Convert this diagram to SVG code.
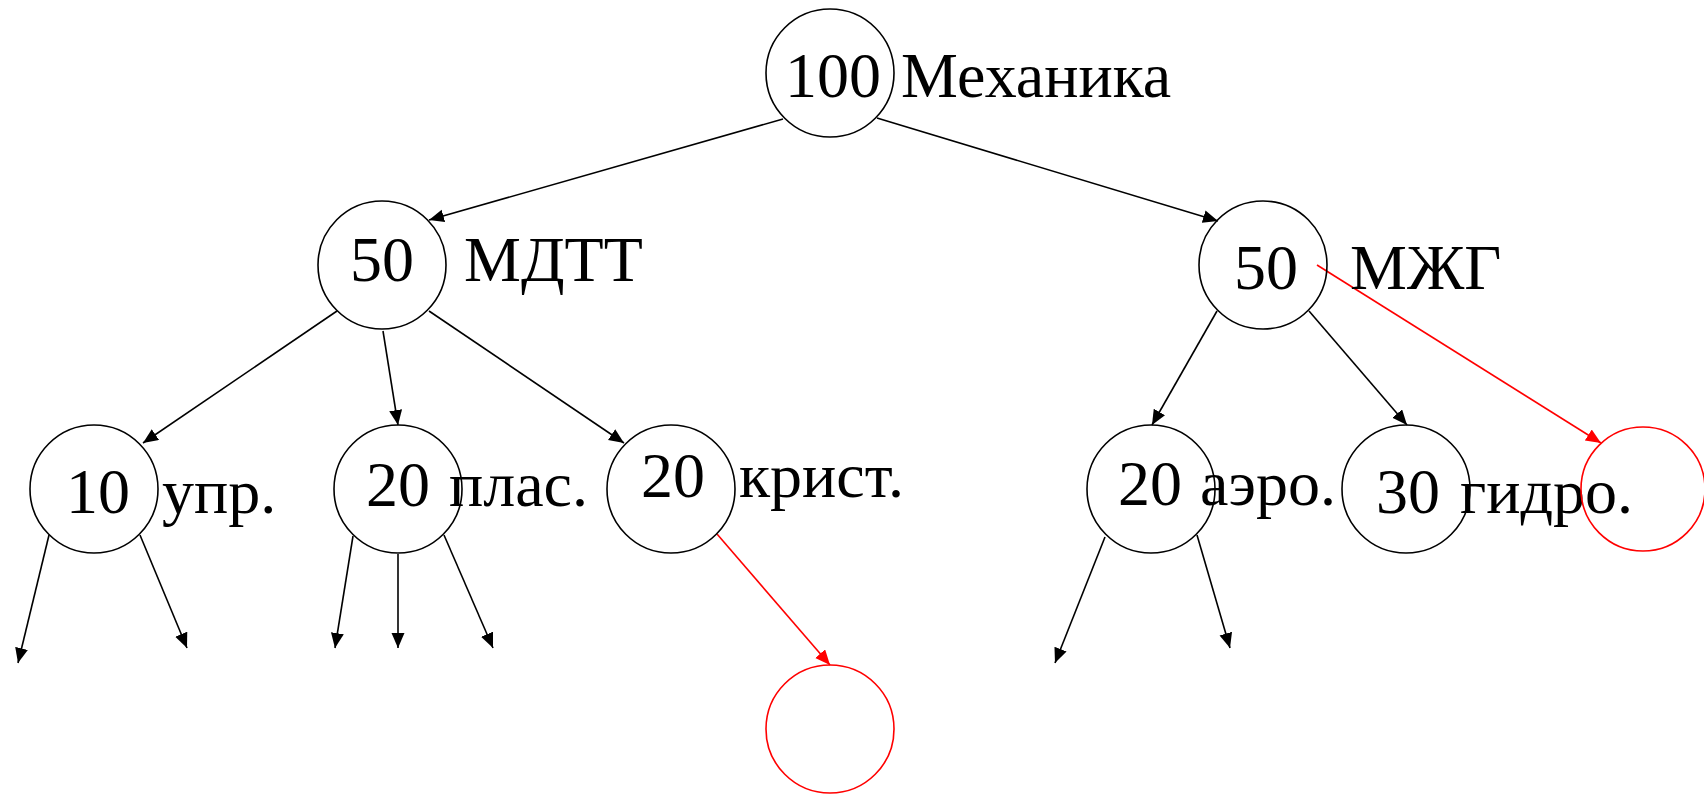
<svg xmlns="http://www.w3.org/2000/svg" width="1704" height="795" viewBox="0 0 1704 795">
  <defs>
    <style>
      .node { fill: none; stroke: #000; stroke-width: 1.6; }
      .node.new { stroke: #ff0000; }
      .lbl { font-family: "Liberation Serif", "Times New Roman", serif; font-size: 64px; fill: #000; }
      .edge { stroke: #000; stroke-width: 1.6; fill: none; marker-end: url(#arrow); }
      .edge.new { stroke: #ff0000; marker-end: url(#arrow-red); }
    </style>
    <marker id="arrow" markerUnits="userSpaceOnUse" markerWidth="16" markerHeight="14" refX="15" refY="6.5" orient="auto">
      <path d="M0,0 L15,6.5 L0,13 z" fill="#000"/>
    </marker>
    <marker id="arrow-red" markerUnits="userSpaceOnUse" markerWidth="16" markerHeight="14" refX="15" refY="6.5" orient="auto">
      <path d="M0,0 L15,6.5 L0,13 z" fill="#ff0000"/>
    </marker>
  </defs>
  <rect width="1704" height="795" fill="#fff"/>

  <!-- connectors -->
  <g id="edges">
    <line class="edge" x1="783" y1="119" x2="429" y2="220"/>
    <line class="edge" x1="877" y1="118" x2="1218" y2="221"/>
    <line class="edge" x1="337" y1="311" x2="143" y2="443"/>
    <line class="edge" x1="383" y1="331" x2="398" y2="425"/>
    <line class="edge" x1="429" y1="311" x2="624" y2="443"/>
    <line class="edge" x1="1217" y1="311" x2="1152" y2="425"/>
    <line class="edge" x1="1309" y1="311" x2="1407" y2="425"/>
    <line class="edge new" x1="1317" y1="265" x2="1601" y2="443"/>
    <line class="edge new" x1="717" y1="534" x2="830" y2="665"/>
    <line class="edge" x1="49" y1="535" x2="18" y2="663"/>
    <line class="edge" x1="140" y1="535" x2="187" y2="648"/>
    <line class="edge" x1="353" y1="536" x2="335" y2="648"/>
    <line class="edge" x1="398" y1="554" x2="398" y2="648"/>
    <line class="edge" x1="444" y1="535" x2="493" y2="648"/>
    <line class="edge" x1="1105" y1="537" x2="1055" y2="663"/>
    <line class="edge" x1="1197" y1="535" x2="1230" y2="648"/>
  </g>

  <g id="node-mechanics">
    <circle class="node" cx="830" cy="73" r="64"/>
    <text class="lbl" x="785" y="97">100</text>
    <text class="lbl" x="901" y="97">Механика</text>
  </g>
  <g id="node-mdtt">
    <circle class="node" cx="382" cy="265" r="64"/>
    <text class="lbl" x="350" y="281">50</text>
    <text class="lbl" x="464" y="281">МДТТ</text>
  </g>
  <g id="node-mzhg">
    <circle class="node" cx="1263" cy="265" r="64"/>
    <text class="lbl" x="1234" y="289">50</text>
    <text class="lbl" x="1350" y="289">МЖГ</text>
  </g>
  <g id="node-upr">
    <circle class="node" cx="94" cy="489" r="64"/>
    <text class="lbl" x="66" y="513">10</text>
    <text class="lbl" x="162" y="513">упр.</text>
  </g>
  <g id="node-plas">
    <circle class="node" cx="398" cy="489" r="64"/>
    <text class="lbl" x="366" y="506">20</text>
    <text class="lbl" x="449" y="506">плас.</text>
  </g>
  <g id="node-krist">
    <circle class="node" cx="671" cy="489" r="64"/>
    <text class="lbl" x="641" y="497">20</text>
    <text class="lbl" x="739" y="497">крист.</text>
  </g>
  <g id="node-aero">
    <circle class="node" cx="1151" cy="489" r="64"/>
    <text class="lbl" x="1118" y="505">20</text>
    <text class="lbl" x="1200" y="505">аэро.</text>
  </g>
  <g id="node-gidro">
    <circle class="node" cx="1406" cy="489" r="64"/>
    <text class="lbl" x="1376" y="513">30</text>
    <text class="lbl" x="1460" y="513">гидро.</text>
  </g>
  <g id="node-new-mzhg">
    <circle class="node new" cx="1643" cy="489" r="62"/>
  </g>
  <g id="node-new-krist">
    <circle class="node new" cx="830" cy="729" r="64"/>
  </g>
</svg>
